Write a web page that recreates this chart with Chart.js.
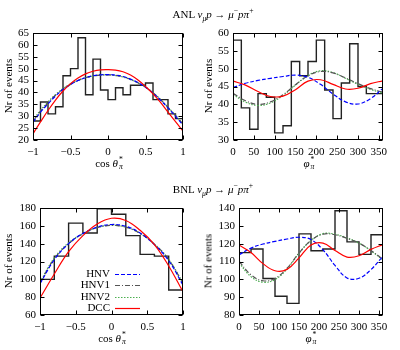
<!DOCTYPE html>
<html>
<head>
<meta charset="utf-8">
<script src="https://cdn.jsdelivr.net/npm/chart.js@4.4.1/dist/chart.umd.min.js"></script>
<style>
  body { margin: 0; background: #fff; }
  #wrap { position: relative; width: 400px; height: 350px; font-family: "Liberation Serif", serif; color: #000; }
  canvas { position: absolute; }
  .lbl { position: absolute; transform: translate(-50%, -50%); white-space: nowrap; line-height: 1; }
  .title { font-size: 11px; }
  .axis { font-size: 11px; }
  .rot { transform: translate(-50%, -50%) rotate(-90deg); }
  sub, sup { font-size: 70%; line-height: 0; }
  .ss { display: inline-flex; flex-direction: column; vertical-align: middle; font-size: 70%; line-height: 0.9; margin-left: 1px; }
</style>
</head>
<body>
<div id="wrap">
  <canvas id="c1" width="200" height="175" style="left:0;top:0"></canvas>
  <canvas id="c2" width="200" height="175" style="left:200px;top:0"></canvas>
  <canvas id="c3" width="200" height="175" style="left:0;top:175px"></canvas>
  <canvas id="c4" width="200" height="175" style="left:200px;top:175px"></canvas>

  <div class="lbl title" style="left:213px;top:14px">ANL <i>ν<sub>μ</sub>p</i> → <i>μ</i><sup>−</sup><i>pπ</i><sup>+</sup></div>
  <div class="lbl title" style="left:213px;top:189px">BNL <i>ν<sub>μ</sub>p</i> → <i>μ</i><sup>−</sup><i>pπ</i><sup>+</sup></div>

  <div class="lbl axis" style="left:109px;top:164px">cos <i>θ</i><span class="ss"><span>*</span><i>π</i></span></div>
  <div class="lbl axis" style="left:309px;top:164px"><i>φ</i><span class="ss"><span>*</span><i>π</i></span></div>
  <div class="lbl axis" style="left:112px;top:339px">cos <i>θ</i><span class="ss"><span>*</span><i>π</i></span></div>
  <div class="lbl axis" style="left:311px;top:339px"><i>φ</i><span class="ss"><span>*</span><i>π</i></span></div>

  <div class="lbl axis rot" style="left:8px;top:86px">Nr of events</div>
  <div class="lbl axis rot" style="left:208px;top:86px">Nr of events</div>
  <div class="lbl axis rot" style="left:8px;top:261px">Nr of events</div>
  <div class="lbl axis rot" style="left:208px;top:261px">Nr of events</div>
</div>

<script>
// ---- ANL, cos theta ----
const anlCosEdges = [-1.0, -0.9, -0.8, -0.7, -0.6, -0.5, -0.4, -0.3, -0.2, -0.1, 0.0, 0.1, 0.2, 0.3, 0.4, 0.5, 0.6, 0.7, 0.8, 0.9, 1.0];
const anlCosCounts = [28, 36, 31, 34, 47, 50, 63, 39, 54, 41, 37, 42, 39, 43, 43, 44, 37, 37, 31, 29];
const anlCosX = [-1.0, -0.9, -0.8, -0.7, -0.6, -0.5, -0.4, -0.3, -0.2, -0.1, 0.0, 0.1, 0.2, 0.3, 0.4, 0.5, 0.6, 0.7, 0.8, 0.9, 1.0];
const anlCosHNV  = [27.5, 31.7, 35.2, 38.5, 41.2, 43.3, 45.0, 46.2, 47.0, 47.4, 47.5, 47.3, 46.7, 45.6, 44.1, 42.2, 39.8, 36.8, 33.5, 30.0, 26.3];
const anlCosHNV1 = [27.9, 32.1, 35.6, 38.8, 41.4, 43.4, 45.0, 46.2, 46.9, 47.3, 47.4, 47.2, 46.6, 45.5, 44.1, 42.3, 39.9, 37.0, 33.7, 30.3, 26.7];
const anlCosHNV2 = [28.3, 32.5, 36.0, 39.1, 41.6, 43.6, 45.1, 46.2, 46.9, 47.3, 47.4, 47.1, 46.5, 45.4, 44.0, 42.2, 39.9, 37.1, 33.8, 30.4, 26.8];
const anlCosDCC  = [22.6, 27.6, 32.4, 36.8, 40.6, 43.7, 46.1, 47.8, 48.9, 49.5, 49.6, 49.4, 48.7, 47.3, 45.2, 42.5, 39.4, 35.8, 31.7, 27.7, 23.8];

// ---- ANL, phi ----
const anlPhiEdges = [0, 20, 40, 60, 80, 100, 120, 140, 160, 180, 200, 220, 240, 260, 280, 300, 320, 340, 360];
const anlPhiCounts = [58, 39, 33, 43, 42, 32, 34, 52, 48, 52, 58, 44, 36, 46, 57, 45, 43, 43];
const anlPhiX = [0, 30, 60, 90, 120, 150, 180, 210, 240, 270, 300, 330, 360];
const anlPhiHNV  = [44.7, 45.9, 46.7, 47.3, 47.8, 48.2, 47.6, 45.6, 42.9, 40.7, 40.1, 41.6, 44.5];
const anlPhiHNV1 = [43.1, 41.0, 40.0, 40.7, 42.7, 45.5, 48.0, 49.2, 48.8, 47.4, 45.8, 44.4, 43.4];
const anlPhiHNV2 = [42.8, 40.6, 39.7, 40.4, 42.5, 45.4, 48.1, 49.4, 48.9, 47.3, 45.6, 44.2, 43.1];
const anlPhiDCC  = [46.5, 45.4, 43.6, 42.2, 42.3, 44.1, 46.5, 46.9, 45.6, 44.3, 44.5, 45.8, 46.6];

// ---- BNL, cos theta ----
const bnlCosEdges = [-1.0, -0.8, -0.6, -0.4, -0.2, 0.0, 0.2, 0.4, 0.6, 0.8, 1.0];
const bnlCosCounts = [100, 126, 163, 152, 179, 173, 149, 128, 126, 88];
const bnlCosX = [-1.0, -0.8, -0.6, -0.4, -0.2, 0.0, 0.2, 0.4, 0.6, 0.8, 1.0];
const bnlCosHNV  = [95, 122, 140, 151.5, 158.5, 161.5, 159.5, 152, 139, 121, 93.5];
const bnlCosHNV1 = [96, 123, 140, 151, 158, 160.5, 158.5, 151.5, 139.5, 122, 95.5];
const bnlCosHNV2 = [97, 124, 141, 151, 158, 160.5, 158.5, 151.5, 139.5, 122.5, 96];
const bnlCosDCC  = [79, 106, 131, 149, 162, 168.5, 166, 155, 139, 115, 86];

// ---- BNL, phi ----
const bnlPhiEdges = [0, 30, 60, 90, 120, 150, 180, 210, 240, 270, 300, 330, 360];
const bnlPhiCounts = [115, 117, 100.5, 90.5, 86.5, 125.5, 116, 117, 138.5, 121, 114, 125];
const bnlPhiX = [0, 30, 60, 90, 120, 150, 180, 210, 240, 270, 300, 330, 360];
const bnlPhiHNV  = [113.8, 117.5, 119.8, 121.3, 122.6, 123.6, 122.3, 116.5, 107.8, 100.8, 100.6, 105.5, 113];
const bnlPhiHNV1 = [110.2, 102.5, 99.2, 100.5, 106.2, 114.8, 121.8, 125.3, 125, 123, 120.3, 116.2, 111.2];
const bnlPhiHNV2 = [109.3, 101.5, 98.4, 99.9, 105.8, 114.6, 121.8, 125.6, 125.3, 123.2, 120.3, 116, 110.8];
const bnlPhiDCC  = [119.2, 115, 108.8, 104.8, 105.6, 112, 119.2, 120.3, 116.2, 112.5, 113.2, 116.8, 119.5];

// tick labels
const cosTicks = [-1, -0.5, 0, 0.5, 1];
const phiTicks = [0, 50, 100, 150, 200, 250, 300, 350];
const anlCosYTicks = [20, 25, 30, 35, 40, 45, 50, 55, 60, 65];
const anlPhiYTicks = [30, 35, 40, 45, 50, 55, 60];
const bnlCosYTicks = [60, 80, 100, 120, 140, 160, 180];
const bnlPhiYTicks = [80, 90, 100, 110, 120, 130, 140];

const legendNames = ["HNV", "HNV1", "HNV2", "DCC"];

const FONT = "Liberation Serif";
const styles = {
    HNV:  { borderColor: "#0000ff", borderDash: [4, 2], borderWidth: 1.2 },
    HNV1: { borderColor: "#555555", borderDash: [5, 2, 1, 2], borderWidth: 1.2 },
    HNV2: { borderColor: "#4caf50", borderDash: [1.5, 1.5], borderWidth: 1.2 },
    DCC:  { borderColor: "#ff0000", borderDash: [], borderWidth: 1.2 }
};

// frame + inward ticks on all four sides
const frameTicks = {
    id: "frameTicks",
    afterDatasetsDraw(chart) {
        const { ctx, chartArea: a, scales: { x, y } } = chart;
        const L = Math.round(a.left) + 0.5, R = Math.round(a.right) - 0.5;
        const T = Math.round(a.top) + 0.5, B = Math.round(a.bottom) - 0.5;
        ctx.save();
        ctx.strokeStyle = "#000";
        ctx.lineWidth = 1;
        ctx.strokeRect(L, T, R - L, B - T);
        const len = 4;
        ctx.beginPath();
        x.ticks.forEach(t => {
            const px = Math.round(x.getPixelForValue(t.value)) + 0.5;
            ctx.moveTo(px, B); ctx.lineTo(px, B - len);
            ctx.moveTo(px, T); ctx.lineTo(px, T + len);
        });
        y.ticks.forEach(t => {
            const py = Math.round(y.getPixelForValue(t.value)) + 0.5;
            ctx.moveTo(L, py); ctx.lineTo(L + len, py);
            ctx.moveTo(R, py); ctx.lineTo(R - len, py);
        });
        ctx.stroke();
        ctx.restore();
    }
};

// legend inside the lower-left panel
const innerLegend = {
    id: "innerLegend",
    afterDraw(chart) {
        if (!chart.options.plugins.innerLegend.show) return;
        const ctx = chart.ctx;
        const rows = [99, 110, 122, 133];
        ctx.save();
        ctx.font = "11px " + FONT;
        ctx.fillStyle = "#000";
        ctx.textAlign = "right";
        ctx.textBaseline = "middle";
        legendNames.forEach((name, i) => {
            const s = styles[name];
            ctx.fillText(name, 110, rows[i]);
            ctx.beginPath();
            ctx.strokeStyle = s.borderColor;
            ctx.lineWidth = s.borderWidth;
            ctx.setLineDash(s.borderDash);
            ctx.moveTo(115, rows[i] + 0.5);
            ctx.lineTo(140, rows[i] + 0.5);
            ctx.stroke();
        });
        ctx.restore();
    }
};

function fmtNum(v) {
    return v < 0 ? "\u2212" + Math.abs(v) : String(v);
}

function histPoints(edges, counts) {
    return edges.map((e, i) => ({ x: e, y: counts[Math.min(i, counts.length - 1)] }));
}

function curve(name, xs, ys) {
    return Object.assign({
        label: name,
        data: xs.map((x, i) => ({ x: x, y: ys[i] })),
        pointRadius: 0,
        tension: 0.4,
        fill: false
    }, styles[name]);
}

function makeChart(id, p) {
    new Chart(document.getElementById(id), {
        type: "line",
        data: {
            datasets: [
                curve("DCC", p.cx, p.dcc),
                curve("HNV", p.cx, p.hnv),
                curve("HNV1", p.cx, p.hnv1),
                curve("HNV2", p.cx, p.hnv2),
                {
                    label: "data",
                    data: histPoints(p.edges, p.counts),
                    stepped: true,
                    borderColor: "#222",
                    borderWidth: 1.4,
                    pointRadius: 0,
                    fill: false
                }
            ]
        },
        options: {
            responsive: false,
            animation: false,
            layout: { padding: { top: p.top, right: p.right, left: 0, bottom: 0 } },
            plugins: {
                legend: { display: false },
                tooltip: { enabled: false },
                innerLegend: { show: !!p.legend }
            },
            scales: {
                x: {
                    type: "linear",
                    min: p.xmin, max: p.xmax,
                    afterBuildTicks: s => { s.ticks = p.xticks.map(v => ({ value: v })); },
                    afterFit: s => { s.height = p.xh; },
                    grid: { display: false, drawTicks: false },
                    border: { display: false },
                    ticks: { color: "#000", font: { family: FONT, size: 11 }, padding: 6, maxRotation: 0, autoSkip: false, callback: v => fmtNum(v) }
                },
                y: {
                    type: "linear",
                    min: p.ymin, max: p.ymax,
                    afterBuildTicks: s => { s.ticks = p.yticks.map(v => ({ value: v })); },
                    afterFit: s => { s.width = p.yw; },
                    grid: { display: false, drawTicks: false },
                    border: { display: false },
                    ticks: { color: "#000", font: { family: FONT, size: 11 }, padding: 4, autoSkip: false, callback: v => fmtNum(v) }
                }
            }
        },
        plugins: [frameTicks, innerLegend]
    });
}

makeChart("c1", {
    edges: anlCosEdges, counts: anlCosCounts, cx: anlCosX,
    hnv: anlCosHNV, hnv1: anlCosHNV1, hnv2: anlCosHNV2, dcc: anlCosDCC,
    xmin: -1, xmax: 1, ymin: 20, ymax: 65, xticks: cosTicks, yticks: anlCosYTicks,
    top: 33, right: 17, yw: 33, xh: 35
});
makeChart("c2", {
    edges: anlPhiEdges, counts: anlPhiCounts, cx: anlPhiX,
    hnv: anlPhiHNV, hnv1: anlPhiHNV1, hnv2: anlPhiHNV2, dcc: anlPhiDCC,
    xmin: 0, xmax: 360, ymin: 30, ymax: 60, xticks: phiTicks, yticks: anlPhiYTicks,
    top: 33, right: 17, yw: 33, xh: 35
});
makeChart("c3", {
    edges: bnlCosEdges, counts: bnlCosCounts, cx: bnlCosX,
    hnv: bnlCosHNV, hnv1: bnlCosHNV1, hnv2: bnlCosHNV2, dcc: bnlCosDCC,
    xmin: -1, xmax: 1, ymin: 60, ymax: 180, xticks: cosTicks, yticks: bnlCosYTicks,
    top: 33, right: 17, yw: 40, xh: 35, legend: true
});
makeChart("c4", {
    edges: bnlPhiEdges, counts: bnlPhiCounts, cx: bnlPhiX,
    hnv: bnlPhiHNV, hnv1: bnlPhiHNV1, hnv2: bnlPhiHNV2, dcc: bnlPhiDCC,
    xmin: 0, xmax: 360, ymin: 80, ymax: 140, xticks: phiTicks, yticks: bnlPhiYTicks,
    top: 33, right: 17, yw: 39, xh: 35
});
</script>
</body>
</html>
